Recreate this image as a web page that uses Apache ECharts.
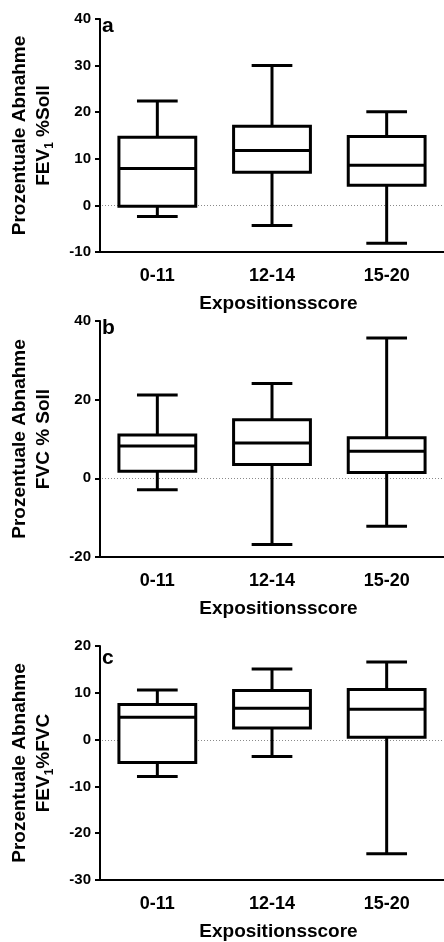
<!DOCTYPE html>
<html><head><meta charset="utf-8">
<script src="https://cdn.jsdelivr.net/npm/echarts@6/dist/echarts.min.js"></script>
<style>html,body{margin:0;padding:0;background:#fff}#c{width:444px;height:942px}</style>
</head><body><div id="c"></div>
<script>
// Categories (Expositionsscore)
var categories = ['0-11', '12-14', '15-20'];
// Box values per category: [min, Q1, median, Q3, max]
var boxA = [[-2.4, -0.2, 7.9, 14.6, 22.4], [-4.3, 7.1, 11.8, 17.0, 30.0], [-8.1, 4.3, 8.6, 14.8, 20.1]];
var boxB = [[-2.9, 1.8, 8.2, 11.0, 21.2], [-16.8, 3.5, 9.0, 14.9, 24.1], [-12.2, 1.5, 6.9, 10.3, 35.7]];
var boxC = [[-7.9, -4.9, 4.75, 7.5, 10.6], [-3.6, 2.5, 6.7, 10.5, 15.1], [-24.4, 0.5, 6.5, 10.7, 16.6]];
// Axis ticks [min, max, interval]
var yTicksA = [-10, 40, 10];
var yTicksB = [-20, 40, 20];
var yTicksC = [-30, 20, 10];
var refValue = 0;
var panelLetters = ['a', 'b', 'c'];
var yNames = ['Prozentuale Abnahme\nFEV{s|1} %Soll', 'Prozentuale Abnahme\nFVC % Soll', 'Prozentuale Abnahme\nFEV{s|1}%FVC'];
var xName = 'Expositionsscore';

var FONT = '"Liberation Sans", Arial, sans-serif';
var chart = echarts.init(document.getElementById('c'), null, {renderer: 'canvas'});

var grids = [
  {left: 97, top: 19, width: 351, height: 233},
  {left: 93, top: 321, width: 351, height: 236},
  {left: 97, top: 646, width: 351, height: 235}
];
var ticks = [yTicksA, yTicksB, yTicksC];
var data = [boxA, boxB, boxC];

function renderBox(params, api) {
  var i = api.value(0);
  var vmin = api.value(1), q1 = api.value(2), med = api.value(3), q3 = api.value(4), vmax = api.value(5);
  var band = api.size([1, 0])[0];
  var bw = band * 0.67, cw = band * 0.355;
  var pMin = api.coord([i, vmin]), pQ1 = api.coord([i, q1]), pMed = api.coord([i, med]), pQ3 = api.coord([i, q3]), pMax = api.coord([i, vmax]);
  var x = pMin[0];
  var st = {stroke: '#000', lineWidth: 3, fill: null};
  var children = [];
  if (params.dataIndex === 0) {
    var cs = params.coordSys;
    var y0 = Math.round(api.coord([i, refValue])[1]) + 0.5;
    children.push({type: 'line', shape: {x1: cs.x + 2, y1: y0, x2: cs.x + cs.width, y2: y0},
      style: {stroke: '#8a8a8a', lineWidth: 1, lineDash: [1, 2], fill: null}});
  }
  children.push(
    {type: 'line', shape: {x1: x, y1: pMax[1], x2: x, y2: pQ3[1]}, style: st},
    {type: 'line', shape: {x1: x, y1: pQ1[1], x2: x, y2: pMin[1]}, style: st},
    {type: 'line', shape: {x1: x - cw / 2, y1: pMax[1], x2: x + cw / 2, y2: pMax[1]}, style: st},
    {type: 'line', shape: {x1: x - cw / 2, y1: pMin[1], x2: x + cw / 2, y2: pMin[1]}, style: st},
    {type: 'rect', shape: {x: x - bw / 2, y: pQ3[1], width: bw, height: pQ1[1] - pQ3[1]}, style: {stroke: '#000', lineWidth: 3, fill: '#fff'}},
    {type: 'line', shape: {x1: x - bw / 2, y1: pMed[1], x2: x + bw / 2, y2: pMed[1]}, style: st}
  );
  return {type: 'group', children: children};
}

var xAxes = [], yAxes = [], series = [], titles = [];
var letterTops = [16, 318, 648];
for (var k = 0; k < 3; k++) {
  xAxes.push({
    gridIndex: k, type: 'category', data: categories, position: 'bottom',
    name: xName, nameLocation: 'middle', nameGap: 42,
    nameTextStyle: {fontFamily: FONT, fontWeight: 'bold', fontSize: 19, color: '#000', padding: [0, 0, 0, 13]},
    axisLine: {onZero: false, lineStyle: {color: '#000', width: 2}},
    axisTick: {alignWithLabel: true, length: 6, lineStyle: {width: 2, color: '#000'}},
    axisLabel: {fontFamily: FONT, fontWeight: 'bold', fontSize: 18, color: '#000', margin: 15},
    splitLine: {show: false}
  });
  yAxes.push({
    gridIndex: k, type: 'value', min: ticks[k][0], max: ticks[k][1], interval: ticks[k][2],
    name: yNames[k], nameLocation: 'middle', nameGap: 44, nameRotate: 90,
    nameTextStyle: {fontFamily: FONT, fontWeight: 'bold', fontSize: 19, color: '#000', lineHeight: 24,
      rich: {s: {fontFamily: FONT, fontWeight: 'bold', fontSize: 12, color: '#000', verticalAlign: 'bottom', lineHeight: 19}}},
    axisLine: {show: true, onZero: false, lineStyle: {color: '#000', width: 2}},
    axisTick: {show: true, length: 5, lineStyle: {width: 2, color: '#000'}},
    axisLabel: {fontFamily: FONT, fontWeight: 'bold', fontSize: 15, color: '#000', margin: 9},
    splitLine: {show: false}
  });
  series.push({
    type: 'custom', xAxisIndex: k, yAxisIndex: k, z: 5,
    renderItem: renderBox,
    encode: {x: 0, y: [1, 2, 3, 4, 5]},
    data: data[k].map(function (d, i) { return [i].concat(d); }),
    animation: false
  });
  titles.push({text: panelLetters[k], left: 102, top: letterTops[k],
    textStyle: {fontFamily: FONT, fontWeight: 'bold', fontSize: 21, color: '#000'}, padding: 0});
}

chart.setOption({
  animation: false,
  title: titles,
  grid: grids,
  xAxis: xAxes,
  yAxis: yAxes,
  series: series
});
</script></body></html>
